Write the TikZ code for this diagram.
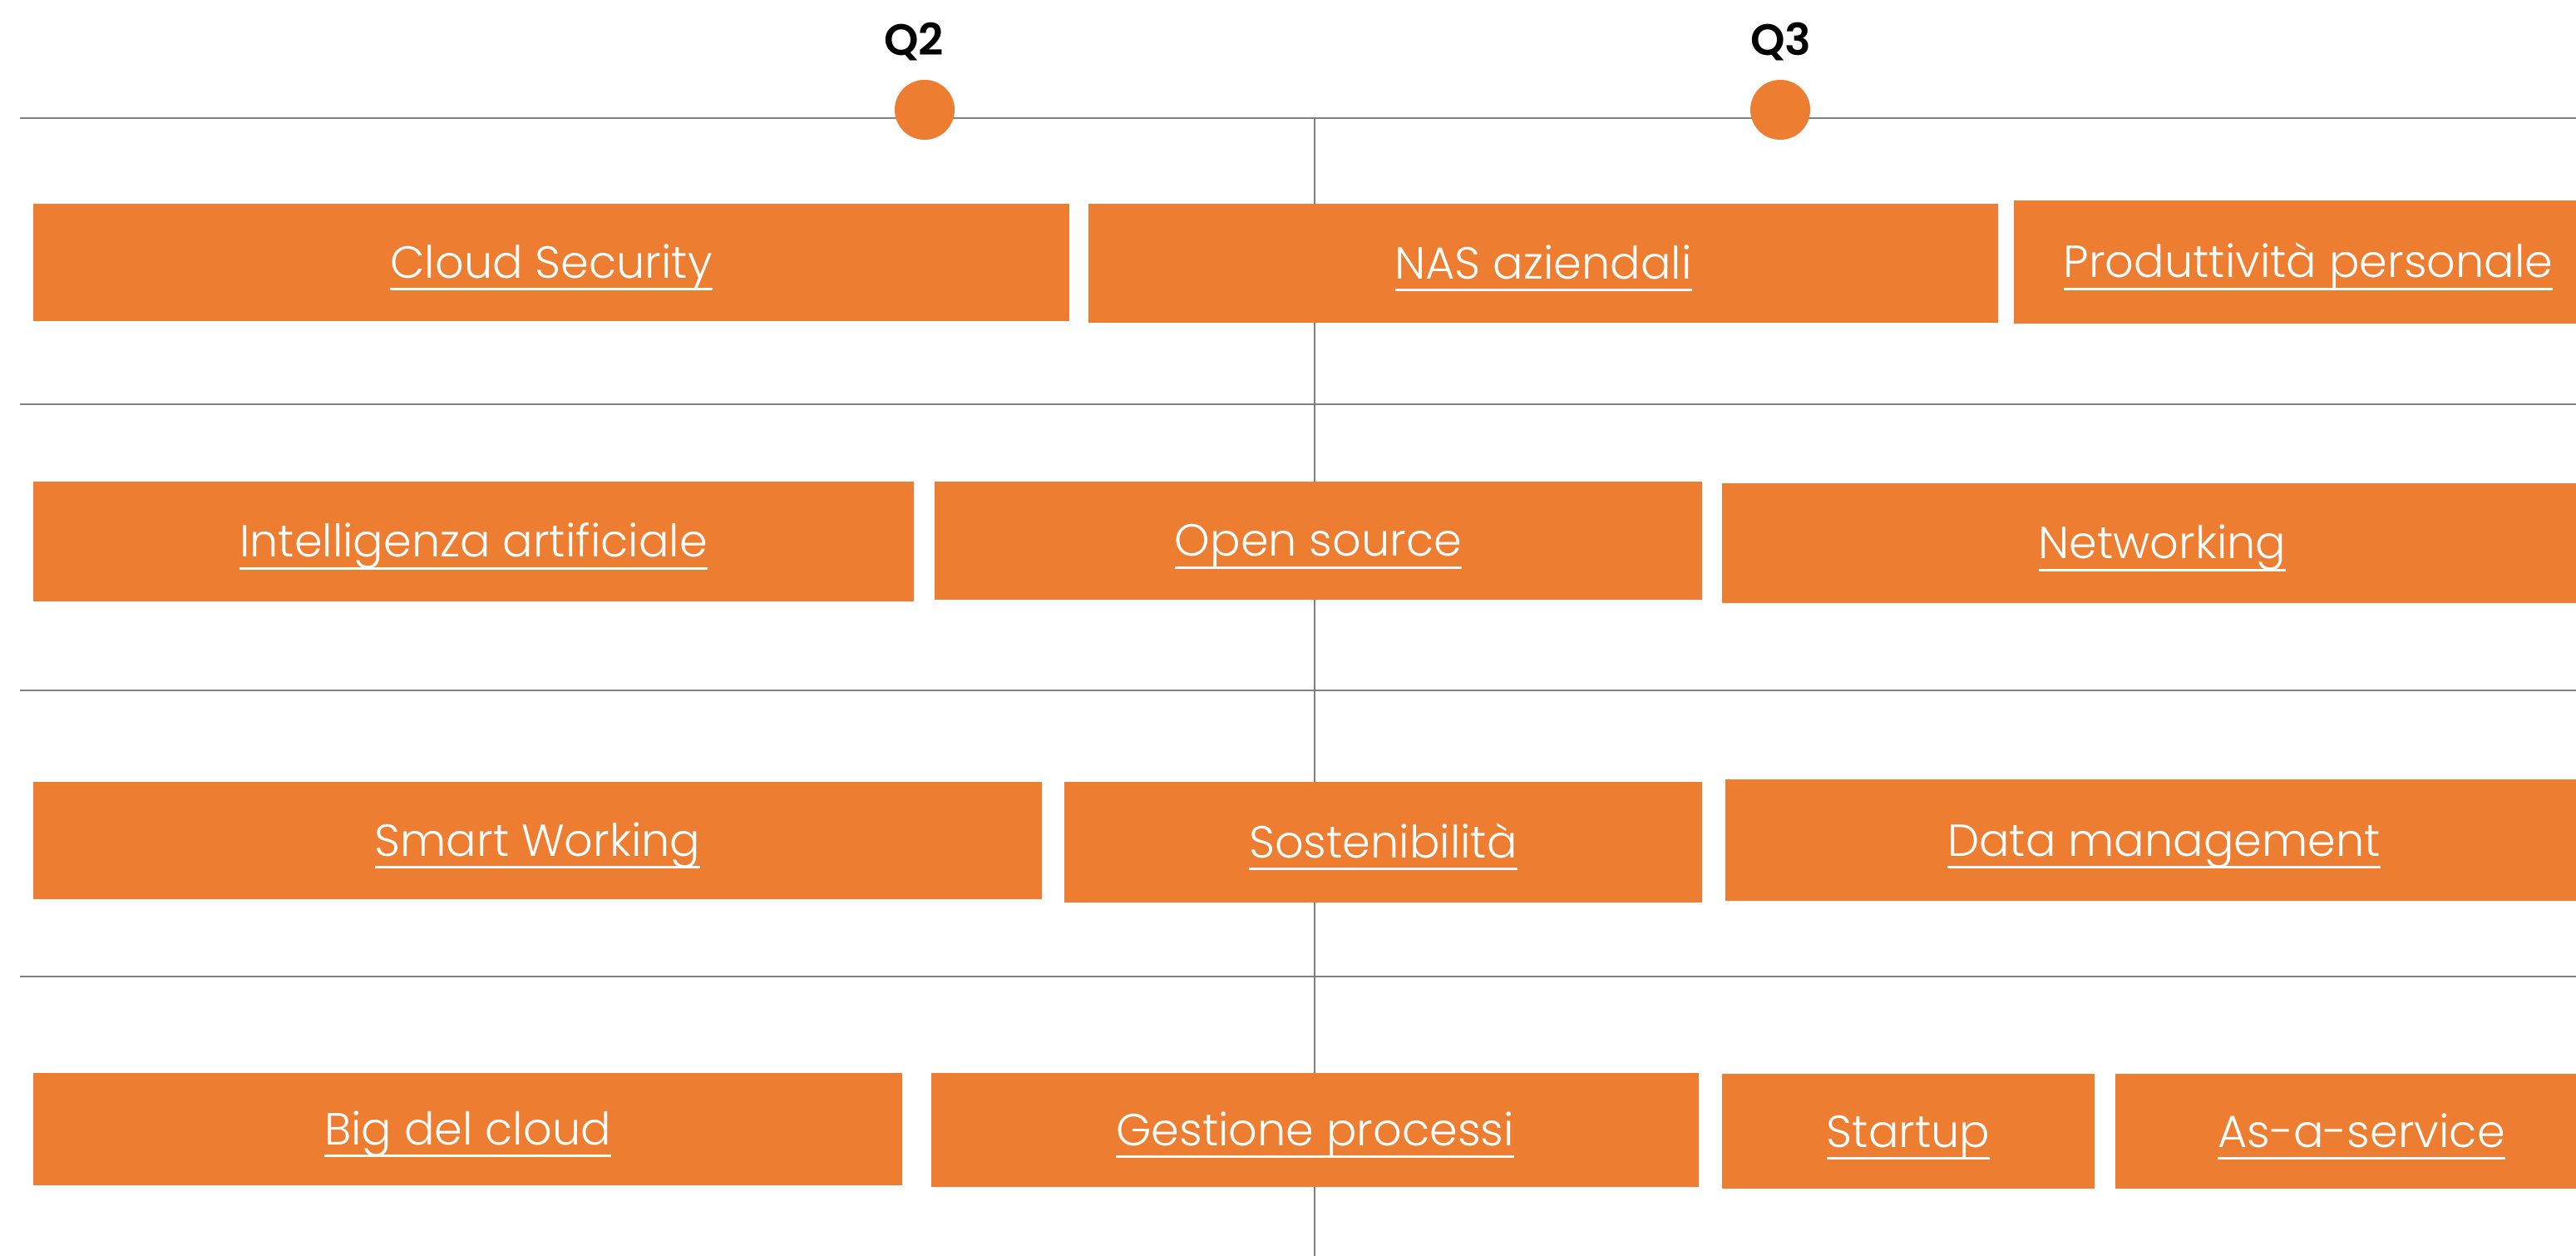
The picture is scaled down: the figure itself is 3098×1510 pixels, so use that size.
\documentclass[tikz,border=0pt]{standalone}
\usepackage{fontspec}
\setmainfont{Poppins}[UprightFont=* Light, BoldFont=* SemiBold]
\usetikzlibrary{positioning}

\definecolor{topicorange}{HTML}{ED7D31}
\definecolor{gridgray}{HTML}{808080}

\newcommand\ulin[1]{\setbox0=\hbox{#1}\rlap{\rule[-0.145cm]{\wd0}{0.03cm}}\box0}

\begin{document}
\begin{tikzpicture}[x=0.01cm, y=-0.01cm, line width=0.6pt,
    grid/.style={draw=gridgray},
    quarter/.style={circle, fill=topicorange, minimum size=0.72cm, inner sep=0pt},
    qlabel/.style={font=\fontsize{15}{18}\selectfont\bfseries, text=black, anchor=base},
    topic/.style={font=\fontsize{15.4}{18}\selectfont, text=white, anchor=base, inner sep=0pt}]

    \def\topic#1#2#3#4#5#6{
      \fill[topicorange] (#2,#3) rectangle (#4,#5);
      \node[topic] (#1) at ({(#2+#4)/2},{(#3+#5)/2+19}) {\ulin{#6}};
    }

    \useasboundingbox (0,0) rectangle (3098,1510);
    \clip (0,0) rectangle (3098,1510);

    % grid
    \draw[grid, line width=0.8pt] (24,142) -- (3098,142);
    \foreach \y in {486,830,1174}
      \draw[grid] (24,\y) -- (3098,\y);
    \draw[grid] (1581,142) -- (1581,1510);

    % quarters
    \node[quarter] (q2dot) at (1112,132) {};
    \node[quarter] (q3dot) at (2141,132) {};
    \node[qlabel] (q2) at (1099,67) {Q2};
    \node[qlabel] (q3) at (2142,67) {Q3};

    % row 1
    \topic{cloudsec}{40}{245}{1286}{386}{Cloud Security}
    \topic{nas}{1309}{245}{2403}{388}{NAS aziendali}
    \topic{produttivita}{2422}{241}{3130}{389}{Produttività personale}

    % row 2
    \topic{ai}{40}{579}{1099}{723}{Intelligenza artificiale}
    \topic{opensource}{1124}{579}{2047}{721}{Open source}
    \topic{networking}{2071}{581}{3130}{725}{Networking}

    % row 3
    \topic{smartwork}{40}{940}{1253}{1081}{Smart Working}
    \topic{sostenibilita}{1280}{940}{2047}{1085}{Sostenibilità}
    \topic{datamgmt}{2075}{937}{3130}{1083}{Data management}

    % row 4
    \topic{bigcloud}{40}{1290}{1085}{1425}{Big del cloud}
    \topic{processi}{1120}{1290}{2043}{1427}{Gestione processi}
    \topic{startup}{2071}{1291}{2519}{1429}{Startup}
    \topic{asaservice}{2544}{1291}{3136}{1429}{As-a-service}

\end{tikzpicture}
\end{document}
